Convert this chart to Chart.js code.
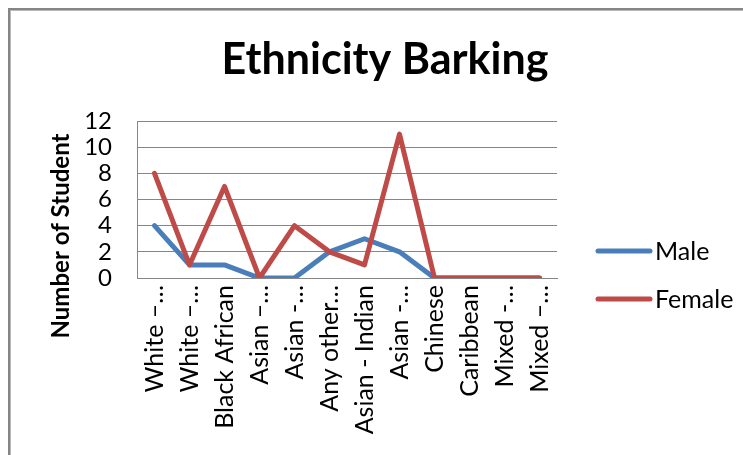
<!DOCTYPE html>
<html>
<head>
<meta charset="utf-8">
<script src="https://cdn.jsdelivr.net/npm/chart.js@4"></script>
<style>
  html, body { margin: 0; padding: 0; background: #fff; overflow: hidden; }
  #frame { position: absolute; left: 8px; top: 8px; width: 800px; height: 500px;
           border-left: 2px solid #858585; border-top: 2px solid #858585;
           box-shadow: inset 1px 1px 0 #b8b8b8; }
  #wrap { position: absolute; left: 0; top: 0; width: 743px; height: 455px; }
</style>
</head>
<body>
<div id="frame"></div>
<div id="wrap"><canvas id="c" width="743" height="455"></canvas></div>
<script>
const chartTitle = "Ethnicity Barking";
const yAxisTitle = "Number of Student";
const categories = ["White \u2013\u2026", "White \u2013\u2026", "Black African", "Asian \u2013\u2026", "Asian -\u2026",
  "Any other\u2026", "Asian - Indian", "Asian -\u2026", "Chinese", "Caribbean", "Mixed -\u2026", "Mixed \u2013\u2026"];
const maleValues   = [4, 1, 1, 0, 0, 2, 3, 2, 0, 0, 0, 0];
const femaleValues = [8, 1, 7, 0, 4, 2, 1, 11, 0, 0, 0, 0];
const yTicks = [0, 2, 4, 6, 8, 10, 12];

const FONT = "Lato, 'Liberation Sans', sans-serif";

const decor = {
  id: 'decor',
  afterDraw(chart) {
    const ctx = chart.ctx;
    ctx.save();
    ctx.fillStyle = '#000';
    // title
    ctx.font = "bold 43px " + FONT;
    ctx.textAlign = 'center';
    ctx.textBaseline = 'alphabetic';
    ctx.fillText(chartTitle, 385, 74);
    // y axis title
    ctx.save();
    ctx.translate(61, 236);
    ctx.rotate(-Math.PI / 2);
    ctx.font = "bold 24px " + FONT;
    ctx.textAlign = 'center';
    ctx.textBaseline = 'middle';
    ctx.fillText(yAxisTitle, 0, 0);
    ctx.restore();
    // legend
    const items = chart.data.datasets;
    const rows = [251, 299];
    items.forEach((ds, i) => {
      const y = rows[i];
      ctx.strokeStyle = ds.borderColor;
      ctx.lineWidth = 5;
      ctx.lineCap = 'round';
      ctx.beginPath();
      ctx.moveTo(598, y);
      ctx.lineTo(650, y);
      ctx.stroke();
      ctx.fillStyle = '#000';
      ctx.font = "25px " + FONT;
      ctx.textAlign = 'left';
      ctx.textBaseline = 'middle';
      ctx.fillText(ds.label, 655, y + 1);
    });
    ctx.restore();
  }
};

new Chart(document.getElementById('c'), {
  type: 'line',
  data: {
    labels: categories,
    datasets: [
      { label: 'Male', data: maleValues, borderColor: '#4A7EBB', backgroundColor: '#4A7EBB',
        borderWidth: 5, pointRadius: 0, tension: 0, fill: false, order: 1,
        borderCapStyle: 'round', borderJoinStyle: 'round' },
      { label: 'Female', data: femaleValues, borderColor: '#BE4B48', backgroundColor: '#BE4B48',
        borderWidth: 5, pointRadius: 0, tension: 0, fill: false, order: 0,
        borderCapStyle: 'round', borderJoinStyle: 'round' }
    ]
  },
  options: {
    responsive: false,
    animation: false,
    events: [],
    layout: { padding: { left: 0, top: 121, right: 186, bottom: 0 } },
    plugins: { legend: { display: false }, title: { display: false }, tooltip: { enabled: false } },
    scales: {
      x: {
        offset: true,
        grid: { display: false, drawTicks: false },
        border: { display: true, color: '#868686', width: 1 },
        ticks: { color: '#000', font: { family: FONT, size: 25 }, minRotation: 90, maxRotation: 90,
                 autoSkip: false, padding: 7 },
        afterFit(s) { s.height = 177; }
      },
      y: {
        min: 0, max: 12,
        afterBuildTicks(s) { s.ticks = yTicks.map(v => ({ value: v })); },
        grid: { color: '#868686', lineWidth: 1, drawTicks: false },
        border: { display: true, color: '#868686', width: 1 },
        ticks: { color: '#000', font: { family: FONT, size: 24 }, padding: 25, autoSkip: false, stepSize: 2 },
        afterFit(s) { s.width = 137; }
      }
    }
  },
  plugins: [decor]
});
</script>
</body>
</html>
